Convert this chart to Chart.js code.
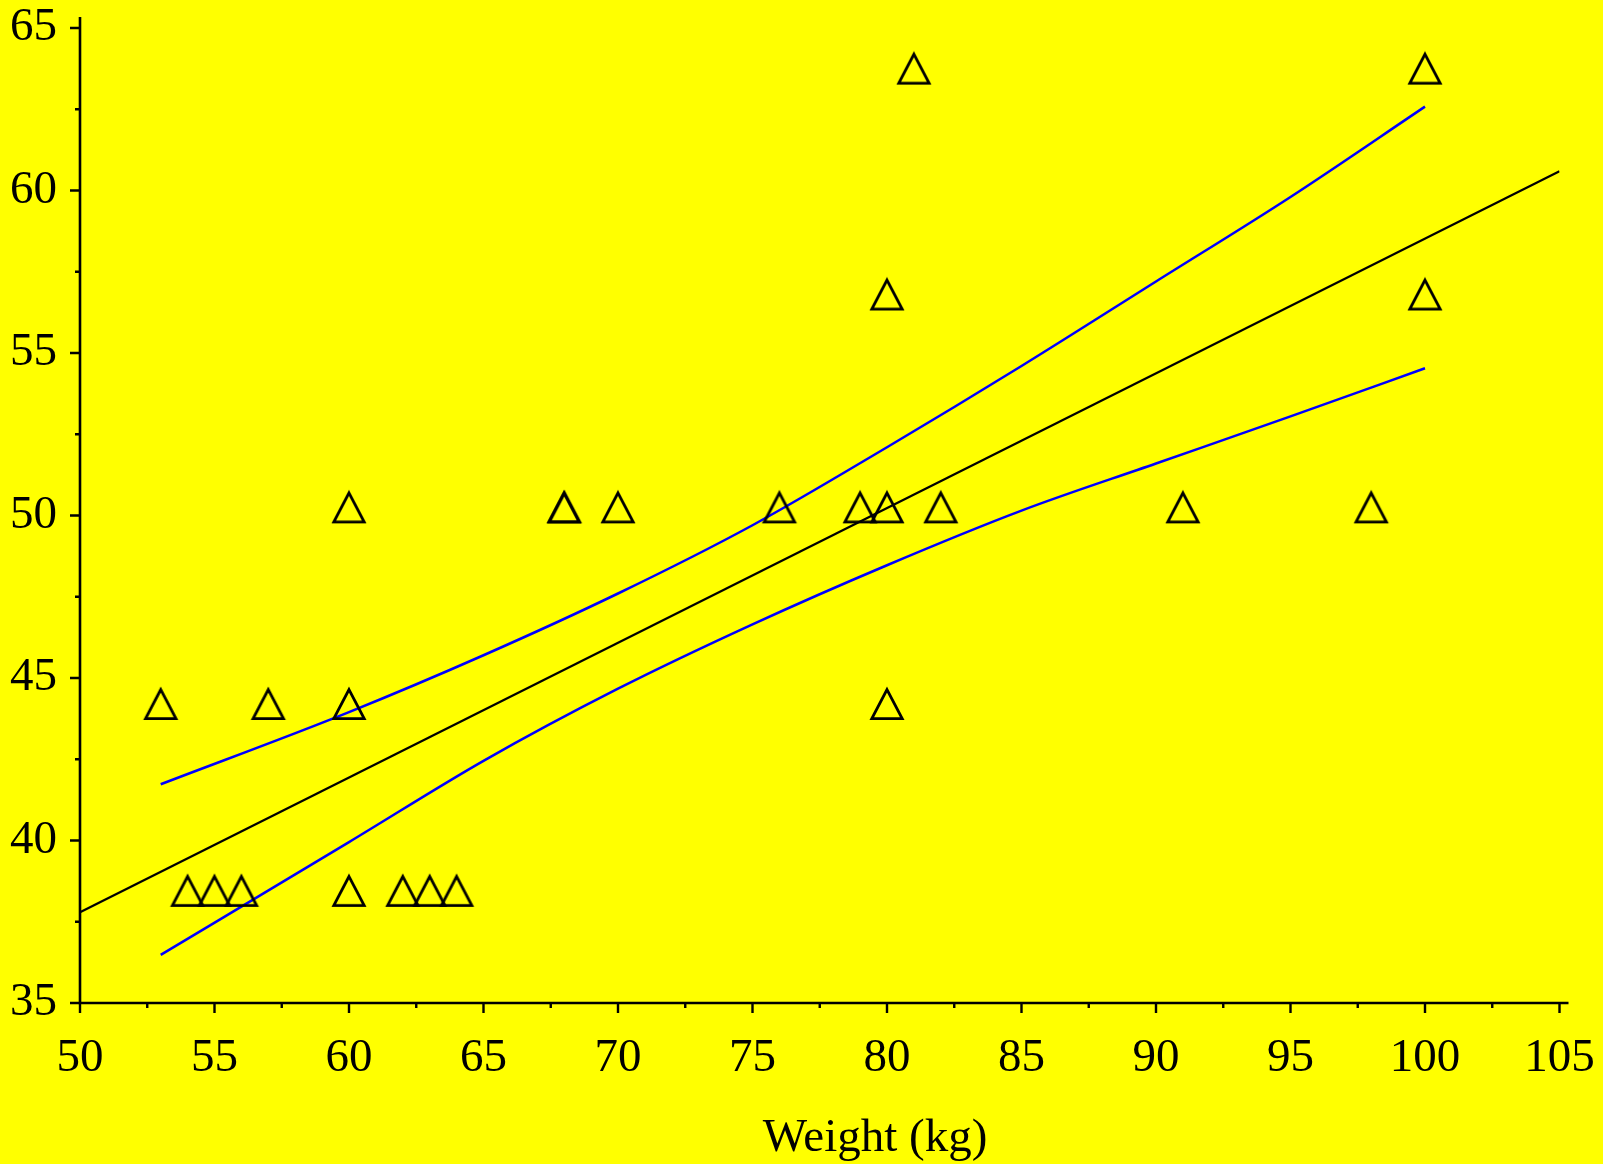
<!DOCTYPE html>
<html>
<head>
<meta charset="utf-8">
<script src="https://cdn.jsdelivr.net/npm/chart.js@4.4.0/dist/chart.umd.min.js"></script>
<style>
    html, body { margin: 0; padding: 0; background: #ffff00; }
    #wrap { width: 1603px; height: 1164px; }
</style>
</head>
<body>
<div id="wrap"><canvas id="chartCanvas" width="1603" height="1164"></canvas></div>
<script>
// tick labels
const xTicks = [50, 55, 60, 65, 70, 75, 80, 85, 90, 95, 100, 105];
const yTicks = [35, 40, 45, 50, 55, 60, 65];
const xTitle = 'Weight (kg)';

// observations (triangles)
const weights = [53, 57, 60, 80,
                 54, 55, 56, 60, 62, 63, 64,
                 60, 68, 68, 70, 76, 79, 80, 82, 91, 98,
                 80, 100,
                 81, 100];
const heights = [44.2, 44.2, 44.2, 44.2,
                 38.45, 38.45, 38.45, 38.45, 38.45, 38.45, 38.45,
                 50.25, 50.25, 50.25, 50.25, 50.25, 50.25, 50.25, 50.25, 50.25, 50.25,
                 56.8, 56.8,
                 63.75, 63.75];

// fitted line
const fitX = [50, 105];
const fitY = [37.79, 60.59];

// confidence band
const bandX = [53, 60, 65, 70, 75, 80, 85, 90, 95, 100];
const upperBand = [41.73, 43.95, 45.7, 47.6, 49.7, 52.1, 54.6, 57.2, 59.8, 62.58];
const lowerBand = [36.48, 39.95, 42.45, 44.67, 46.65, 48.47, 50.15, 51.6, 53.05, 54.53];

const FONT = '"Liberation Serif", "Times New Roman", serif';

// triangle marker, drawn on a small canvas so it is centred on its box
function makeTriangle() {
    const c = document.createElement('canvas');
    c.width = 38;
    c.height = 38;
    const g = c.getContext('2d');
    g.strokeStyle = '#000';
    g.lineWidth = 2.8;
    g.lineJoin = 'miter';
    g.beginPath();
    g.moveTo(19, 4.6);
    g.lineTo(34.2, 33.6);
    g.lineTo(3.8, 33.6);
    g.closePath();
    g.stroke();
    return c;
}

const pts = (xs, ys) => xs.map((x, i) => ({ x: x, y: ys[i] }));

const noPad = s => { s.paddingTop = 0; s.paddingBottom = 0; s.paddingLeft = 0; s.paddingRight = 0; };

const axesPlugin = {
    id: 'axesPlugin',
    beforeDraw(chart) {
        const ctx = chart.ctx;
        ctx.save();
        ctx.fillStyle = '#ffff00';
        ctx.fillRect(0, 0, chart.width, chart.height);
        ctx.restore();
    },
    beforeDatasetsDraw(chart) {
        const ctx = chart.ctx;
        const xs = chart.scales.x, ys = chart.scales.y;
        const area = chart.chartArea;
        ctx.save();
        ctx.strokeStyle = '#000';
        ctx.lineWidth = 2.6;
        ctx.lineCap = 'butt';
        ctx.beginPath();
        ctx.moveTo(area.left, area.top - 11);
        ctx.lineTo(area.left, area.bottom);
        ctx.lineTo(area.right + 9, area.bottom);
        ctx.stroke();

        // major + minor ticks
        ctx.lineWidth = 2.4;
        ctx.beginPath();
        xTicks.forEach((v, i) => {
            const px = xs.getPixelForValue(v);
            ctx.moveTo(px, area.bottom);
            ctx.lineTo(px, area.bottom + 10);
            if (i < xTicks.length - 1) {
                const mx = xs.getPixelForValue((v + xTicks[i + 1]) / 2);
                ctx.moveTo(mx, area.bottom);
                ctx.lineTo(mx, area.bottom + 5);
            }
        });
        yTicks.forEach((v, i) => {
            const py = ys.getPixelForValue(v);
            ctx.moveTo(area.left, py);
            ctx.lineTo(area.left - 10, py);
            if (i < yTicks.length - 1) {
                const my = ys.getPixelForValue((v + yTicks[i + 1]) / 2);
                ctx.moveTo(area.left, my);
                ctx.lineTo(area.left - 5, my);
            }
        });
        ctx.stroke();
        ctx.restore();
    },
    afterDraw(chart) {
        // axis title, placed right of centre as in the original
        const ctx = chart.ctx;
        ctx.save();
        ctx.fillStyle = '#000';
        ctx.font = '47px ' + FONT;
        ctx.textAlign = 'center';
        ctx.textBaseline = 'alphabetic';
        ctx.fillText(xTitle, 875, 1151);
        ctx.restore();
    }
};

const tickFont = { family: FONT, size: 47, lineHeight: 1 };

new Chart(document.getElementById('chartCanvas'), {
    type: 'scatter',
    data: {
        datasets: [
            {
                label: 'data',
                data: pts(weights, heights),
                pointStyle: makeTriangle(),
                pointRadius: 17,
                showLine: false
            },
            {
                label: 'fit',
                type: 'line',
                data: pts(fitX, fitY),
                borderColor: '#000000',
                borderWidth: 2.2,
                pointRadius: 0,
                fill: false
            },
            {
                label: 'upper',
                type: 'line',
                data: pts(bandX, upperBand),
                borderColor: '#0000ff',
                borderWidth: 2.5,
                pointRadius: 0,
                cubicInterpolationMode: 'monotone',
                fill: false
            },
            {
                label: 'lower',
                type: 'line',
                data: pts(bandX, lowerBand),
                borderColor: '#0000ff',
                borderWidth: 2.5,
                pointRadius: 0,
                cubicInterpolationMode: 'monotone',
                fill: false
            }
        ]
    },
    options: {
        responsive: false,
        animation: false,
        layout: { padding: { top: 28, right: 43.5, left: 0, bottom: 0 } },
        plugins: {
            legend: { display: false },
            tooltip: { enabled: false }
        },
        scales: {
            x: {
                type: 'linear',
                min: 50,
                max: 105,
                afterBuildTicks: s => { s.ticks = xTicks.map(v => ({ value: v })); },
                afterFit: s => { s.height = 161; noPad(s); },
                grid: { display: false, drawTicks: false },
                border: { display: false },
                ticks: { font: tickFont, color: '#000', padding: 32, autoSkip: false, maxRotation: 0 }
            },
            y: {
                type: 'linear',
                min: 35,
                max: 65,
                afterBuildTicks: s => { s.ticks = yTicks.map(v => ({ value: v })); },
                afterFit: s => { s.width = 80; noPad(s); },
                grid: { display: false, drawTicks: false },
                border: { display: false },
                ticks: { font: tickFont, color: '#000', padding: 23, autoSkip: false }
            }
        }
    },
    plugins: [axesPlugin]
});
</script>
</body>
</html>
